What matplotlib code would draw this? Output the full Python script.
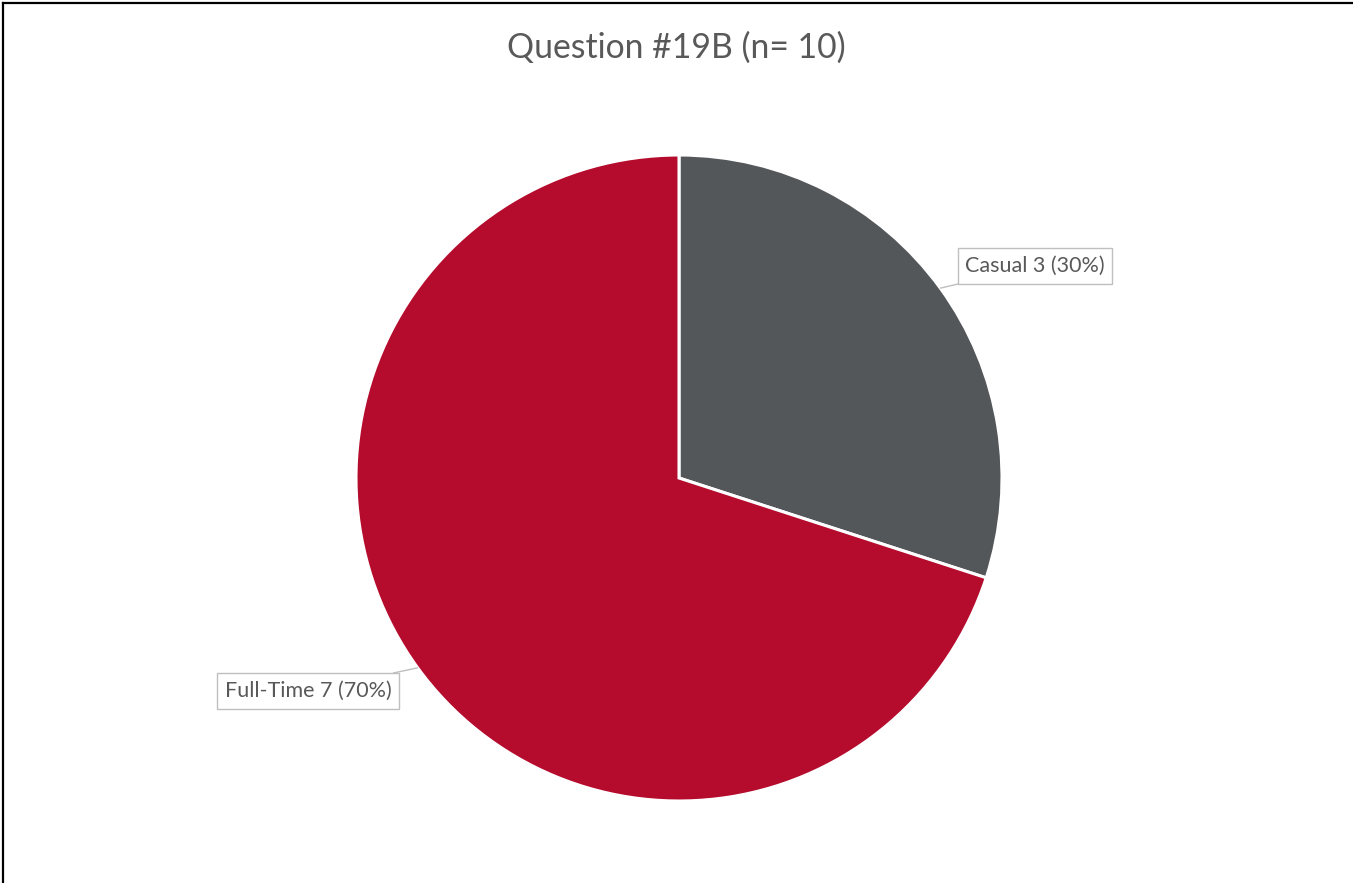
import numpy as np
import matplotlib
matplotlib.use("Agg")
import matplotlib.pyplot as plt
from matplotlib.lines import Line2D

# Data
categories = ["Casual", "Full-Time"]
counts = [3, 7]
colors = ["#54575A", "#B50B2D"]
title = "Question #19B (n= 10)"

plt.rcParams["font.family"] = ["Lato", "DejaVu Sans"]

W, H, DPI = 1353, 883, 100
fig = plt.figure(figsize=(W / DPI, H / DPI), dpi=DPI)
fig.patch.set_facecolor("white")

# Pie axes placed in pixel units (center 679,478; radius 323)
cx, cy, r = 679, 478, 323
ax = fig.add_axes([(cx - r) / W, (H - cy - r) / H, 2 * r / W, 2 * r / H])
wedges, _ = ax.pie(counts, colors=colors, startangle=90, counterclock=False,
                   radius=1.0,
                   wedgeprops=dict(edgecolor="white", linewidth=2.2))
ax.set_xlim(-1, 1)
ax.set_ylim(-1, 1)
ax.set_aspect("equal")
ax.axis("off")

# Data labels with callout boxes
total = sum(counts)
label_pos = {"Casual": (1035, 266), "Full-Time": (308, 691)}
for w, cat, n in zip(wedges, categories, counts):
    mid = np.deg2rad((w.theta1 + w.theta2) / 2)
    tip = (np.cos(mid), np.sin(mid))
    px, py = label_pos[cat]
    txt = f"{cat} {n} ({n / total:.0%})"
    ax.annotate(txt, xy=tip, xycoords="data",
                xytext=(px / W, 1 - py / H), textcoords="figure fraction",
                ha="center", va="center", fontsize=15.5, color="#595959",
                bbox=dict(boxstyle="square,pad=0.35", fc="white",
                          ec="#BFBFBF", lw=1.0),
                arrowprops=dict(arrowstyle="-", color="#BFBFBF", lw=1.0,
                                shrinkA=0, shrinkB=0),
                annotation_clip=False)

fig.text(0.5, 1 - 48 / H, title, ha="center", va="center",
         fontsize=24.3, color="#595959")

# Frame lines along the left and top edges
fig.add_artist(Line2D([2.5 / W, 2.5 / W], [0, 1 - 2.5 / H],
                      transform=fig.transFigure, color="black", lw=1.6))
fig.add_artist(Line2D([2.5 / W, 1], [1 - 2.5 / H, 1 - 2.5 / H],
                      transform=fig.transFigure, color="black", lw=1.6))

fig.savefig("out.png", dpi=DPI, facecolor="white")
